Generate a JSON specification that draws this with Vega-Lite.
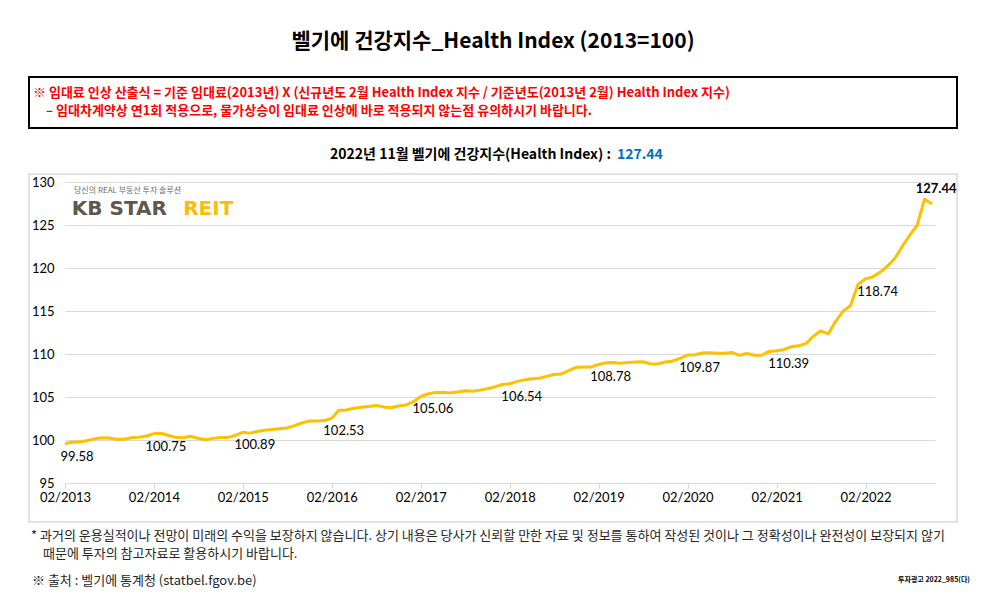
{
  "$schema": "https://vega.github.io/schema/vega-lite/v6.json",
  "padding": {"left": 28, "top": 0, "right": 0, "bottom": 0},
  "spacing": 0,
  "bounds": "flush",
  "background": "white",
  "config": {"view": {"stroke": null}, "font": "Noto Sans CJK KR"},
  "datasets": {
    "idx": [
      {"date": "2013-02-01", "v": 99.58}, {"date": "2013-03-01", "v": 99.73}, {"date": "2013-04-01", "v": 99.80}, {"date": "2013-05-01", "v": 99.92}, {"date": "2013-06-01", "v": 100.13}, {"date": "2013-07-01", "v": 100.25}, {"date": "2013-08-01", "v": 100.24}, {"date": "2013-09-01", "v": 100.08}, {"date": "2013-10-01", "v": 100.09}, {"date": "2013-11-01", "v": 100.26}, {"date": "2013-12-01", "v": 100.33},
      {"date": "2014-01-01", "v": 100.46}, {"date": "2014-02-01", "v": 100.75}, {"date": "2014-03-01", "v": 100.78}, {"date": "2014-04-01", "v": 100.55}, {"date": "2014-05-01", "v": 100.31}, {"date": "2014-06-01", "v": 100.27}, {"date": "2014-07-01", "v": 100.44}, {"date": "2014-08-01", "v": 100.20}, {"date": "2014-09-01", "v": 100.02}, {"date": "2014-10-01", "v": 100.19}, {"date": "2014-11-01", "v": 100.30}, {"date": "2014-12-01", "v": 100.30},
      {"date": "2015-01-01", "v": 100.53}, {"date": "2015-02-01", "v": 100.89}, {"date": "2015-03-01", "v": 100.80}, {"date": "2015-04-01", "v": 100.98}, {"date": "2015-05-01", "v": 101.14}, {"date": "2015-06-01", "v": 101.22}, {"date": "2015-07-01", "v": 101.32}, {"date": "2015-08-01", "v": 101.39}, {"date": "2015-09-01", "v": 101.66}, {"date": "2015-10-01", "v": 101.98}, {"date": "2015-11-01", "v": 102.20}, {"date": "2015-12-01", "v": 102.20},
      {"date": "2016-01-01", "v": 102.26}, {"date": "2016-02-01", "v": 102.53}, {"date": "2016-03-01", "v": 103.45}, {"date": "2016-04-01", "v": 103.50}, {"date": "2016-05-01", "v": 103.69}, {"date": "2016-06-01", "v": 103.80}, {"date": "2016-07-01", "v": 103.90}, {"date": "2016-08-01", "v": 104.00}, {"date": "2016-09-01", "v": 103.85}, {"date": "2016-10-01", "v": 103.75}, {"date": "2016-11-01", "v": 103.95}, {"date": "2016-12-01", "v": 104.06},
      {"date": "2017-01-01", "v": 104.45}, {"date": "2017-02-01", "v": 105.06}, {"date": "2017-03-01", "v": 105.35}, {"date": "2017-04-01", "v": 105.53}, {"date": "2017-05-01", "v": 105.56}, {"date": "2017-06-01", "v": 105.48}, {"date": "2017-07-01", "v": 105.57}, {"date": "2017-08-01", "v": 105.72}, {"date": "2017-09-01", "v": 105.67}, {"date": "2017-10-01", "v": 105.80}, {"date": "2017-11-01", "v": 105.96}, {"date": "2017-12-01", "v": 106.18},
      {"date": "2018-01-01", "v": 106.45}, {"date": "2018-02-01", "v": 106.54}, {"date": "2018-03-01", "v": 106.79}, {"date": "2018-04-01", "v": 106.99}, {"date": "2018-05-01", "v": 107.12}, {"date": "2018-06-01", "v": 107.17}, {"date": "2018-07-01", "v": 107.40}, {"date": "2018-08-01", "v": 107.62}, {"date": "2018-09-01", "v": 107.68}, {"date": "2018-10-01", "v": 108.06}, {"date": "2018-11-01", "v": 108.45}, {"date": "2018-12-01", "v": 108.50},
      {"date": "2019-01-01", "v": 108.50}, {"date": "2019-02-01", "v": 108.78}, {"date": "2019-03-01", "v": 108.97}, {"date": "2019-04-01", "v": 109.00}, {"date": "2019-05-01", "v": 108.92}, {"date": "2019-06-01", "v": 109.00}, {"date": "2019-07-01", "v": 109.07}, {"date": "2019-08-01", "v": 109.09}, {"date": "2019-09-01", "v": 108.87}, {"date": "2019-10-01", "v": 108.85}, {"date": "2019-11-01", "v": 109.07}, {"date": "2019-12-01", "v": 109.17},
      {"date": "2020-01-01", "v": 109.49}, {"date": "2020-02-01", "v": 109.87}, {"date": "2020-03-01", "v": 109.91}, {"date": "2020-04-01", "v": 110.11}, {"date": "2020-05-01", "v": 110.16}, {"date": "2020-06-01", "v": 110.10}, {"date": "2020-07-01", "v": 110.10}, {"date": "2020-08-01", "v": 110.18}, {"date": "2020-09-01", "v": 109.85}, {"date": "2020-10-01", "v": 110.05}, {"date": "2020-11-01", "v": 109.85}, {"date": "2020-12-01", "v": 109.85},
      {"date": "2021-01-01", "v": 110.30}, {"date": "2021-02-01", "v": 110.39}, {"date": "2021-03-01", "v": 110.50}, {"date": "2021-04-01", "v": 110.84}, {"date": "2021-05-01", "v": 110.95}, {"date": "2021-06-01", "v": 111.20}, {"date": "2021-07-01", "v": 112.05}, {"date": "2021-08-01", "v": 112.70}, {"date": "2021-09-01", "v": 112.35}, {"date": "2021-10-01", "v": 113.80}, {"date": "2021-11-01", "v": 115.00}, {"date": "2021-12-01", "v": 115.60},
      {"date": "2022-01-01", "v": 118.10}, {"date": "2022-02-01", "v": 118.74}, {"date": "2022-03-01", "v": 118.95}, {"date": "2022-04-01", "v": 119.50}, {"date": "2022-05-01", "v": 120.20}, {"date": "2022-06-01", "v": 121.10}, {"date": "2022-07-01", "v": 122.50}, {"date": "2022-08-01", "v": 123.80}, {"date": "2022-09-01", "v": 125.00}, {"date": "2022-10-01", "v": 128.00}, {"date": "2022-11-01", "v": 127.44}
    ],
    "labels": [
      {"date": "2013-02-01", "v": 99.58}, {"date": "2014-02-01", "v": 100.75}, {"date": "2015-02-01", "v": 100.89}, {"date": "2016-02-01", "v": 102.53}, {"date": "2017-02-01", "v": 105.06},
      {"date": "2018-02-01", "v": 106.54}, {"date": "2019-02-01", "v": 108.78}, {"date": "2020-02-01", "v": 109.87}, {"date": "2021-02-01", "v": 110.39}, {"date": "2022-02-01", "v": 118.74}
    ],
    "last": [{"date": "2022-11-01", "v": 127.44}]
  },
  "vconcat": [
    {
      "width": 928, "height": 77,
      "data": {"values": [{"t": "벨기에 건강지수_Health Index (2013=100)"}]},
      "mark": {"type": "text", "fontSize": 21, "fontWeight": "bold", "color": "#000000", "align": "center", "baseline": "middle"},
      "encoding": {
        "text": {"field": "t"},
        "x": {"datum": 0.5, "type": "quantitative", "scale": {"domain": [0, 1]}, "axis": null},
        "y": {"datum": 0.4545, "type": "quantitative", "scale": {"domain": [0, 1]}, "axis": null}
      }
    },
    {
      "width": 928, "height": 51,
      "view": {"stroke": "#000000", "strokeWidth": 2},
      "layer": [
        {
          "data": {"values": [{"t": "※ 임대료 인상 산출식 = 기준 임대료(2013년) X (신규년도 2월 Health Index 지수 / 기준년도(2013년 2월) Health Index 지수)"}]},
          "mark": {"type": "text", "fontSize": 13, "fontWeight": "bold", "color": "#FF0000", "align": "left", "baseline": "middle", "dx": 4},
          "encoding": {
            "text": {"field": "t"},
            "x": {"datum": 0, "type": "quantitative", "scale": {"domain": [0, 1]}, "axis": null},
            "y": {"datum": 0.686, "type": "quantitative", "scale": {"domain": [0, 1]}, "axis": null}
          }
        },
        {
          "data": {"values": [{"t": "– 임대차계약상 연1회 적용으로, 물가상승이 임대료 인상에 바로 적용되지 않는점 유의하시기 바랍니다."}]},
          "mark": {"type": "text", "fontSize": 13, "fontWeight": "bold", "color": "#FF0000", "align": "left", "baseline": "middle", "dx": 17},
          "encoding": {
            "text": {"field": "t"},
            "x": {"datum": 0, "type": "quantitative"},
            "y": {"datum": 0.333, "type": "quantitative"}
          }
        }
      ]
    },
    {
      "width": 928, "height": 46,
      "layer": [
        {
          "data": {"values": [{"t": "2022년 11월 벨기에 건강지수(Health Index) :"}]},
          "mark": {"type": "text", "fontSize": 14, "fontWeight": "bold", "color": "#000000", "align": "right", "baseline": "middle", "dx": 118},
          "encoding": {
            "text": {"field": "t"},
            "x": {"datum": 0.5, "type": "quantitative", "scale": {"domain": [0, 1]}, "axis": null},
            "y": {"datum": 0.413, "type": "quantitative", "scale": {"domain": [0, 1]}, "axis": null}
          }
        },
        {
          "data": {"values": [{"t": "127.44"}]},
          "mark": {"type": "text", "fontSize": 14, "fontWeight": "bold", "color": "#0070C0", "align": "left", "baseline": "middle", "dx": 124},
          "encoding": {
            "text": {"field": "t"},
            "x": {"datum": 0.5, "type": "quantitative"},
            "y": {"datum": 0.413, "type": "quantitative"}
          }
        }
      ]
    },
    {
      "width": 928, "height": 348,
      "view": {"stroke": "#d9d9d9", "strokeWidth": 1.5},
      "layer": [
        {
          "data": {"name": "idx"},
          "mark": {"type": "line", "color": "#FFC000", "strokeWidth": 3, "strokeJoin": "round"},
          "encoding": {
            "x": {
              "field": "date", "type": "temporal", "title": null,
              "scale": {"type": "utc", "nice": false, "range": [36, 906],
                "domain": [{"year": 2013, "month": 2, "date": 1, "utc": true}, {"year": 2022, "month": 11, "date": 13, "utc": true}]},
              "axis": {
                "values": [
                  {"year": 2013, "month": 2, "date": 1, "utc": true}, {"year": 2014, "month": 2, "date": 1, "utc": true},
                  {"year": 2015, "month": 2, "date": 1, "utc": true}, {"year": 2016, "month": 2, "date": 1, "utc": true},
                  {"year": 2017, "month": 2, "date": 1, "utc": true}, {"year": 2018, "month": 2, "date": 1, "utc": true},
                  {"year": 2019, "month": 2, "date": 1, "utc": true}, {"year": 2020, "month": 2, "date": 1, "utc": true},
                  {"year": 2021, "month": 2, "date": 1, "utc": true}, {"year": 2022, "month": 2, "date": 1, "utc": true}
                ],
                "format": "%m/%Y", "offset": -39, "grid": false,
                "domainColor": "#d9d9d9", "domainWidth": 1, "tickColor": "#d9d9d9", "tickSize": 5,
                "labelFont": "Lato", "labelFontSize": 13, "labelColor": "#000000", "labelPadding": 3,
                "labelFlush": false, "labelOverlap": false
              }
            },
            "y": {
              "field": "v", "type": "quantitative", "title": null,
              "scale": {"domain": [95, 130], "range": [309, 8], "nice": false, "zero": false},
              "axis": {
                "values": [95, 100, 105, 110, 115, 120, 125, 130],
                "offset": -27, "domain": false, "ticks": false, "labelPadding": 2,
                "grid": true, "gridColor": "#d9d9d9", "gridWidth": 1,
                "labelFont": "Lato", "labelFontSize": 13, "labelColor": "#000000", "labelAlign": "right", "labelBaseline": "middle"
              }
            }
          }
        },
        {
          "data": {"name": "labels"},
          "mark": {"type": "text", "font": "Lato", "fontSize": 13, "color": "#000000", "align": "center", "baseline": "middle", "dx": 12, "dy": 13},
          "encoding": {
            "x": {"field": "date", "type": "temporal", "title": null},
            "y": {"field": "v", "type": "quantitative", "title": null},
            "text": {"field": "v", "type": "quantitative", "format": ".2f"}
          }
        },
        {
          "data": {"name": "last"},
          "mark": {"type": "text", "font": "Lato", "fontSize": 13, "fontWeight": "bold", "color": "#000000", "align": "center", "baseline": "middle", "dx": 4, "dy": -15},
          "encoding": {
            "x": {"field": "date", "type": "temporal", "title": null},
            "y": {"field": "v", "type": "quantitative", "title": null},
            "text": {"field": "v", "type": "quantitative", "format": ".2f"}
          }
        },
        {
          "data": {"values": [{"t": "당신의 REAL 부동산 투자 솔루션"}]},
          "mark": {"type": "text", "fontSize": 8, "color": "#6b6b6b", "align": "left", "baseline": "middle"},
          "encoding": {
            "x": {"datum": {"year": 2013, "month": 3, "date": 10, "utc": true}, "type": "temporal", "title": null},
            "y": {"datum": 128.95, "type": "quantitative", "title": null},
            "text": {"field": "t"}
          }
        },
        {
          "data": {"values": [{"t": "KB STAR"}]},
          "mark": {"type": "text", "font": "DejaVu Sans", "fontSize": 20, "fontWeight": "bold", "color": "#60584C", "align": "left", "baseline": "middle"},
          "encoding": {
            "x": {"datum": {"year": 2013, "month": 3, "date": 1, "utc": true}, "type": "temporal", "title": null},
            "y": {"datum": 126.86, "type": "quantitative", "title": null},
            "text": {"field": "t"}
          }
        },
        {
          "data": {"values": [{"t": "REIT"}]},
          "mark": {"type": "text", "font": "DejaVu Sans", "fontSize": 20, "fontWeight": "bold", "color": "#FFBC00", "align": "left", "baseline": "middle"},
          "encoding": {
            "x": {"datum": {"year": 2014, "month": 6, "date": 1, "utc": true}, "type": "temporal", "title": null},
            "y": {"datum": 126.86, "type": "quantitative", "title": null},
            "text": {"field": "t"}
          }
        }
      ]
    },
    {
      "width": 928, "height": 88,
      "layer": [
        {
          "data": {"values": [{"t": "* 과거의 운용실적이나 전망이 미래의 수익을 보장하지 않습니다. 상기 내용은 당사가 신뢰할 만한 자료 및 정보를 통하여 작성된 것이나 그 정확성이나 완전성이 보장되지 않기"}]},
          "mark": {"type": "text", "fontSize": 13, "color": "#262626", "align": "left", "baseline": "middle", "dx": 2},
          "encoding": {
            "text": {"field": "t"},
            "x": {"datum": 0, "type": "quantitative", "scale": {"domain": [0, 1]}, "axis": null},
            "y": {"datum": 0.844, "type": "quantitative", "scale": {"domain": [0, 1]}, "axis": null}
          }
        },
        {
          "data": {"values": [{"t": "때문에 투자의 참고자료로 활용하시기 바랍니다."}]},
          "mark": {"type": "text", "fontSize": 13, "color": "#262626", "align": "left", "baseline": "middle", "dx": 14},
          "encoding": {
            "text": {"field": "t"},
            "x": {"datum": 0, "type": "quantitative"},
            "y": {"datum": 0.633, "type": "quantitative"}
          }
        },
        {
          "data": {"values": [{"t": "※ 출처 : 벨기에 통계청 (statbel.fgov.be)"}]},
          "mark": {"type": "text", "fontSize": 13, "color": "#262626", "align": "left", "baseline": "middle", "dx": 3},
          "encoding": {
            "text": {"field": "t"},
            "x": {"datum": 0, "type": "quantitative"},
            "y": {"datum": 0.33, "type": "quantitative"}
          }
        },
        {
          "data": {"values": [{"t": "투자광고 2022_985(다)"}]},
          "mark": {"type": "text", "fontSize": 7, "fontWeight": "bold", "color": "#000000", "align": "right", "baseline": "middle", "dx": 13},
          "encoding": {
            "text": {"field": "t"},
            "x": {"datum": 1, "type": "quantitative"},
            "y": {"datum": 0.341, "type": "quantitative"}
          }
        }
      ]
    }
  ]
}
